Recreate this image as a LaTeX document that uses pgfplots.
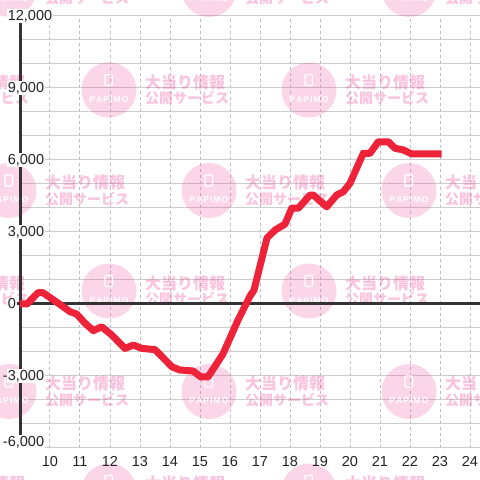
\documentclass[border=0pt]{standalone}
\usepackage{pgfplots}
\pgfplotsset{compat=1.18}
\usepackage{fontspec}
\setmainfont{Liberation Sans}
\newfontfamily\cjk{Noto Sans CJK JP}
\definecolor{gridc}{HTML}{CCCCCC}
\definecolor{vgridc}{HTML}{BBBBBB}
\definecolor{darkc}{HTML}{333333}
\definecolor{labc}{HTML}{222222}
\definecolor{redc}{HTML}{EE2238}
\definecolor{wm}{HTML}{EE4499}

\newcommand{\wmark}[2]{%
  \fill[wm, fill opacity=0.22] (#1,#2) circle[radius=27.5pt];
  \draw[white, line width=1.2pt, rounded corners=1pt] (#1-4,#2-15.5) rectangle (#1+3.5,#2-4.5);
  \node[white, inner sep=0pt, font=\bfseries\fontsize{8.5}{9}\selectfont] at (#1,#2+9.5) {P\hspace{1.1pt}A\hspace{1.1pt}P\hspace{1.1pt}I\hspace{1.1pt}M\hspace{1.1pt}O};
  \node[anchor=west, inner sep=0pt, text=wm, text opacity=0.32, font=\cjk\bfseries\fontsize{16}{16}\selectfont] at (#1+36,#2-8) {大当り情報};
  \node[anchor=west, inner sep=0pt, text=wm, text opacity=0.32, font=\cjk\bfseries\fontsize{14}{14}\selectfont] at (#1+36,#2+8.5) {公開サービス};
}

\begin{document}
\begin{tikzpicture}
\begin{axis}[
  set layers=standard,
  width=460pt, height=432pt, scale only axis,
  xmin=9, xmax=24.33333, ymin=-6000, ymax=12000,
  clip=false,
  scaled y ticks=false, scaled x ticks=false,
  axis line style={draw=none},
  tick style={draw=none},
  major tick length=0pt, minor tick length=0pt,
  xtick={10,11,12,13,14,15,16,17,18,19,20,21,22,23,24},
  xticklabels={10,11,12,13,14,15,16,17,18,19,20,21,22,23,24},
  ytick={-6000,-3000,0,3000,6000,9000,12000},
  yticklabels={{\raisebox{14pt}{\llap{-}6,000}},{\llap{-}3,000},0,{3,000},{6,000},{9,000},{12,000}},
  minor ytick={-5000,-4000,-2000,-1000,1000,2000,4000,5000,7000,8000,10000,11000},
  ymajorgrids, yminorgrids, xmajorgrids,
  major grid style={gridc, line width=1pt},
  minor grid style={gridc, line width=1pt},
  major x grid style={vgridc, line width=1pt, dash pattern=on 3pt off 3pt},
  tick label style={font=\fontsize{14.5}{16}\selectfont, text=labc},
  xticklabel style={anchor=north, inner sep=0pt, yshift=-8pt},
  yticklabel style={anchor=west, xshift=-13pt, inner sep=0.6pt, fill=white},
]
\begin{pgfonlayer}{axis ticks}
\begin{scope}[shift={(axis cs:8.333333,12666.667)}, x=1pt, y=-1pt]
\wmark{9}{-10.5}\wmark{209}{-10.5}\wmark{409}{-10.5}
\wmark{-91}{90}\wmark{109}{90}\wmark{309}{90}
\wmark{9}{190.5}\wmark{209}{190.5}\wmark{409}{190.5}
\wmark{-91}{291}\wmark{109}{291}\wmark{309}{291}
\wmark{9}{391.5}\wmark{209}{391.5}\wmark{409}{391.5}
\wmark{-91}{491}\wmark{109}{491}\wmark{309}{491}
\end{scope}
\end{pgfonlayer}
\begin{pgfonlayer}{axis lines}
\draw[darkc, line width=3pt] (axis cs:8.9,0) -- (axis cs:24.33333,0);
\draw[darkc, line width=3pt] (axis cs:9.017,-6000) -- (axis cs:9.017,12000);
\end{pgfonlayer}
\addplot[redc, line width=7pt, line join=round] coordinates {
(9.000,0) (9.233,0) (9.600,470) (9.767,470) (10.277,30) (10.667,-320)
(10.890,-420) (11.167,-800) (11.443,-1110) (11.723,-950) (12.057,-1290)
(12.500,-1850) (12.777,-1710) (13.057,-1850) (13.500,-1900) (14.067,-2620)
(14.333,-2750) (14.767,-2790) (15.033,-3040) (15.267,-3040) (15.767,-2080)
(16.267,-670) (16.667,330) (16.800,580) (17.233,2750) (17.500,3080)
(17.833,3330) (18.057,3990) (18.277,3990) (18.667,4540) (18.777,4540)
(19.223,4050) (19.557,4540) (19.777,4680) (20.000,5030) (20.443,6280)
(20.667,6280) (20.943,6760) (21.277,6760) (21.500,6490) (21.777,6420)
(22.057,6250) (23.057,6250)
};
\end{axis}
\pgfresetboundingbox
\path[use as bounding box] (-20pt,-32pt) rectangle (460pt,448pt);
\end{tikzpicture}
\end{document}
